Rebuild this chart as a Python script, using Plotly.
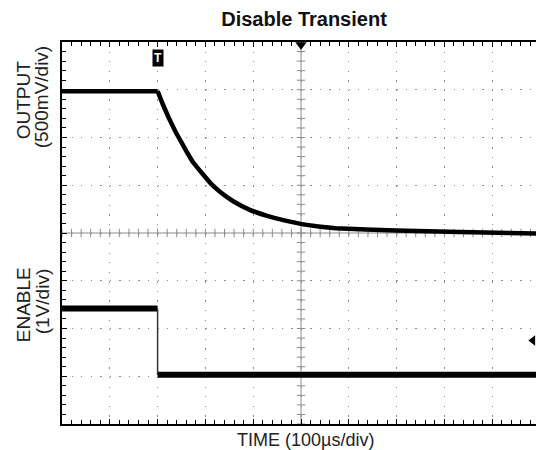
import plotly.graph_objects as go

# ---- data (time in µs, amplitudes in scope divisions) ----
OUT_T = [-200, 0, 12, 23, 37, 47, 61, 75, 93, 110, 131, 159, 194, 229, 263, 312, 373, 498, 632, 792]
OUT_V = [6.97, 6.97, 6.67, 6.42, 6.13, 5.95, 5.70, 5.47, 5.25, 5.05, 4.86, 4.66, 4.48, 4.36, 4.27, 4.17, 4.10, 4.05, 4.02, 3.99]

EN_T = [-200, 0, 0, 792]
EN_V = [2.42, 2.42, 1.03, 1.03]

TITLE = "Disable Transient"
X_LABEL = "TIME (100µs/div)"
Y1_LABEL = ["OUTPUT", "(500mV/div)"]
Y2_LABEL = ["ENABLE", "(1V/div)"]

X_MIN, X_MAX = -200, 791.6
Y_MIN, Y_MAX = 0, 8
X_CENTER, Y_CENTER = 300, 4
TRIG_T = 0
CH2_MARK = (785, 1.75)

GRID = "#8c8c8c"
FONT = "Liberation Sans, Arial, sans-serif"

fig = go.Figure()

# center cross lines with ticks
fig.add_shape(type="line", x0=X_CENTER, x1=X_CENTER, y0=Y_MIN, y1=Y_MAX,
              line=dict(color=GRID, width=1), layer="below")
fig.add_shape(type="line", x0=X_MIN, x1=X_MAX, y0=Y_CENTER, y1=Y_CENTER,
              line=dict(color=GRID, width=1), layer="below")
xt = [X_MIN + 20 * i for i in range(int((X_MAX - X_MIN) / 20) + 1)]
yt = [Y_MIN + 0.2 * i for i in range(41)]
fig.add_trace(go.Scatter(x=xt, y=[Y_CENTER] * len(xt), mode="markers",
                         marker=dict(symbol="line-ns-open", size=6, color=GRID, line=dict(color=GRID, width=1)),
                         hoverinfo="skip", showlegend=False))
fig.add_trace(go.Scatter(x=[X_CENTER] * len(yt), y=yt, mode="markers",
                         marker=dict(symbol="line-ew-open", size=6, color=GRID, line=dict(color=GRID, width=1)),
                         hoverinfo="skip", showlegend=False))

# OUTPUT trace: flat part + smooth decay
fig.add_trace(go.Scatter(x=OUT_T[0:2], y=OUT_V[0:2], mode="lines",
                         line=dict(color="black", width=4.5),
                         hoverinfo="skip", showlegend=False))
fig.add_trace(go.Scatter(x=OUT_T[1:], y=OUT_V[1:], mode="lines",
                         line=dict(color="black", width=4.5, shape="spline", smoothing=0.3),
                         hoverinfo="skip", showlegend=False))
# ENABLE trace: levels thick, edge thin
fig.add_trace(go.Scatter(x=EN_T[0:2], y=EN_V[0:2], mode="lines",
                         line=dict(color="black", width=6), hoverinfo="skip", showlegend=False))
fig.add_trace(go.Scatter(x=EN_T[1:3], y=EN_V[1:3], mode="lines",
                         line=dict(color="#333333", width=1.5), hoverinfo="skip", showlegend=False))
fig.add_trace(go.Scatter(x=EN_T[2:4], y=EN_V[2:4], mode="lines",
                         line=dict(color="black", width=6), hoverinfo="skip", showlegend=False))

# scope markers
fig.add_trace(go.Scatter(x=[X_CENTER], y=[7.94], mode="markers",
                         marker=dict(symbol="triangle-down", size=10, color="black"),
                         cliponaxis=False, hoverinfo="skip", showlegend=False))
fig.add_trace(go.Scatter(x=[CH2_MARK[0]], y=[CH2_MARK[1]], mode="markers",
                         marker=dict(symbol="triangle-left", size=9, color="black"),
                         cliponaxis=False, hoverinfo="skip", showlegend=False))
fig.add_annotation(x=TRIG_T, y=7.66, xref="x", yref="y", text="<b>T</b>", showarrow=False,
                   font=dict(color="white", size=12, family=FONT), bgcolor="black",
                   borderpad=1, xanchor="center", yanchor="middle")

# labels
fig.add_annotation(x=(305 - 61.5) / 474.5, y=(424 - 440) / 382, xref="paper", yref="paper",
                   text=X_LABEL, showarrow=False, font=dict(size=18, color="#222222", family=FONT),
                   xanchor="center", yanchor="middle")
for txt, px, py in [(Y1_LABEL[0], 22.7, 100), (Y1_LABEL[1], 41.7, 97),
                    (Y2_LABEL[0], 22.7, 305), (Y2_LABEL[1], 41.7, 302)]:
    fig.add_annotation(x=(px - 61.5) / 474.5, y=(424 - py) / 382, xref="paper", yref="paper",
                       text=txt, textangle=-90, showarrow=False,
                       font=dict(size=19, color="#222222", family=FONT),
                       xanchor="center", yanchor="middle")

fig.update_layout(
    width=536, height=450,
    margin=dict(l=61.5, r=0, t=42, b=26),
    plot_bgcolor="white", paper_bgcolor="white",
    title=dict(text="<b>" + TITLE + "</b>", x=304 / 536, xref="container", xanchor="center",
               y=1 - 19 / 450, yref="container", yanchor="middle",
               font=dict(size=20, color="#111111", family=FONT)),
    xaxis=dict(range=[X_MIN, X_MAX], tick0=X_MIN, dtick=100, showticklabels=False,
               showgrid=True, gridcolor=GRID, gridwidth=1.3, griddash="1.3px,8.27px",
               zeroline=False, showline=True, linecolor="black", linewidth=2, mirror="allticks",
               ticks="inside", ticklen=5, tickcolor="black", tickwidth=1,
               minor=dict(dtick=20, tick0=X_MIN, ticks="inside", ticklen=4, tickcolor="black", showgrid=False)),
    yaxis=dict(range=[Y_MIN, Y_MAX], tick0=0, dtick=1, showticklabels=False,
               showgrid=True, gridcolor=GRID, gridwidth=1.3, griddash="1.3px,8.25px",
               zeroline=False, showline=True, linecolor="black", linewidth=2, mirror=False,
               ticks="inside", ticklen=5, tickcolor="black", tickwidth=1,
               minor=dict(dtick=0.2, tick0=0, ticks="inside", ticklen=4, tickcolor="black", showgrid=False)),
)

fig.write_html("out.html", config={"displayModeBar": False},
               post_script="document.body.style.margin='0';document.body.style.overflow='hidden';")
